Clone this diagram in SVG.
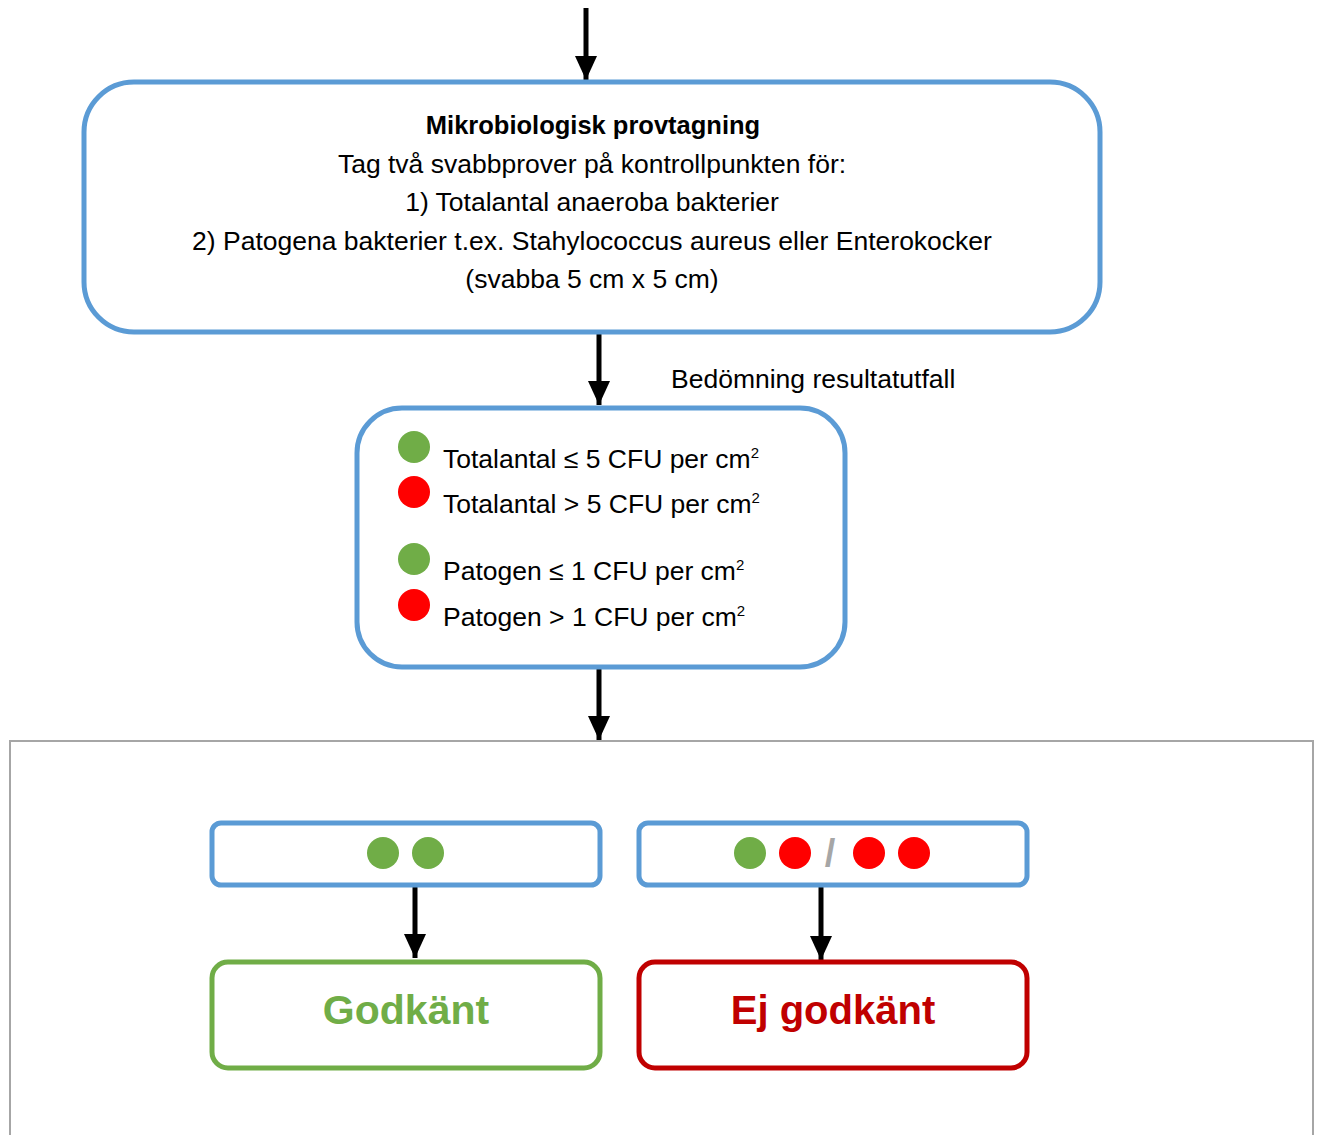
<svg xmlns="http://www.w3.org/2000/svg" width="1317" height="1135" viewBox="0 0 1317 1135">
<style>
text{font-family:"Liberation Sans",Arial,sans-serif;fill:#000}
.t{font-size:26.5px}
.c{text-anchor:middle}
.blue{fill:#fff;stroke:#5B9BD5;stroke-width:5}
.g{fill:#70AD47}
.r{fill:#FF0000}
.conn{stroke:#000;stroke-width:5;fill:none}
.sup{font-size:15px}
</style>
<defs>
<marker id="ah" markerUnits="userSpaceOnUse" viewBox="0 0 24 22" refX="24" refY="11" markerWidth="24" markerHeight="22" orient="auto">
<path d="M0,0 L24,11 L0,22 Z" fill="#000"/>
</marker>
</defs>
<rect x="10" y="741" width="1303" height="400" fill="#fff" stroke="#A6A6A6" stroke-width="2"/>
<g id="connectors">
<line class="conn" x1="586" y1="8" x2="586" y2="80" marker-end="url(#ah)"/>
<line class="conn" x1="599" y1="332" x2="599" y2="405" marker-end="url(#ah)"/>
<line class="conn" x1="599" y1="668" x2="599" y2="740" marker-end="url(#ah)"/>
<line class="conn" x1="415" y1="885" x2="415" y2="958" marker-end="url(#ah)"/>
<line class="conn" x1="821" y1="887" x2="821" y2="960" marker-end="url(#ah)"/>
</g>
<g id="provtagning">
<rect class="blue" x="84" y="82" width="1016" height="250" rx="50"/>
<text class="c" x="593" y="134" font-size="25.5" font-weight="bold">Mikrobiologisk provtagning</text>
<text class="t c" x="592" y="173">Tag två svabbprover på kontrollpunkten för:</text>
<text class="t c" x="592" y="211">1) Totalantal anaeroba bakterier</text>
<text class="t c" x="592" y="250">2) Patogena bakterier t.ex. Stahylococcus aureus eller Enterokocker</text>
<text class="t c" x="592" y="288">(svabba 5 cm x 5 cm)</text>
</g>
<g id="label-bedomning">
<text class="t" x="671" y="388">Bedömning resultatutfall</text>
</g>
<g id="bedomning">
<rect class="blue" x="357" y="408" width="488" height="259" rx="45"/>
<circle class="g" cx="414" cy="447" r="16"/>
<circle class="r" cx="414" cy="492" r="16"/>
<circle class="g" cx="414" cy="559" r="16"/>
<circle class="r" cx="414" cy="605" r="16"/>
<text class="t" x="443" y="468">Totalantal ≤ 5 CFU per cm<tspan class="sup" dy="-10">2</tspan></text>
<text class="t" x="443" y="513">Totalantal &gt; 5 CFU per cm<tspan class="sup" dy="-10">2</tspan></text>
<text class="t" x="443" y="580">Patogen ≤ 1 CFU per cm<tspan class="sup" dy="-10">2</tspan></text>
<text class="t" x="443" y="626">Patogen &gt; 1 CFU per cm<tspan class="sup" dy="-10">2</tspan></text>
</g>
<g id="utfall-ok">
<rect class="blue" x="212" y="823" width="388" height="62" rx="9"/>
<circle class="g" cx="383" cy="853" r="16"/>
<circle class="g" cx="428" cy="853" r="16"/>
</g>
<g id="utfall-ej">
<rect class="blue" x="639" y="823" width="388" height="62" rx="9"/>
<circle class="g" cx="750" cy="853" r="16"/>
<circle class="r" cx="795" cy="853" r="16"/>
<text x="830" y="866" class="c" font-size="38" font-weight="bold" style="fill:#A6A6A6">/</text>
<circle class="r" cx="869" cy="853" r="16"/>
<circle class="r" cx="914" cy="853" r="16"/>
</g>
<g id="godkant">
<rect x="212" y="962" width="388" height="106" rx="16" fill="#fff" stroke="#70AD47" stroke-width="5"/>
<text class="c" x="406" y="1024" font-size="41" font-weight="bold" style="fill:#70AD47">Godkänt</text>
</g>
<g id="ej-godkant">
<rect x="639" y="962" width="388" height="106" rx="16" fill="#fff" stroke="#C00000" stroke-width="5"/>
<text class="c" x="833" y="1024" font-size="40" font-weight="bold" style="fill:#C00000">Ej godkänt</text>
</g>
</svg>
